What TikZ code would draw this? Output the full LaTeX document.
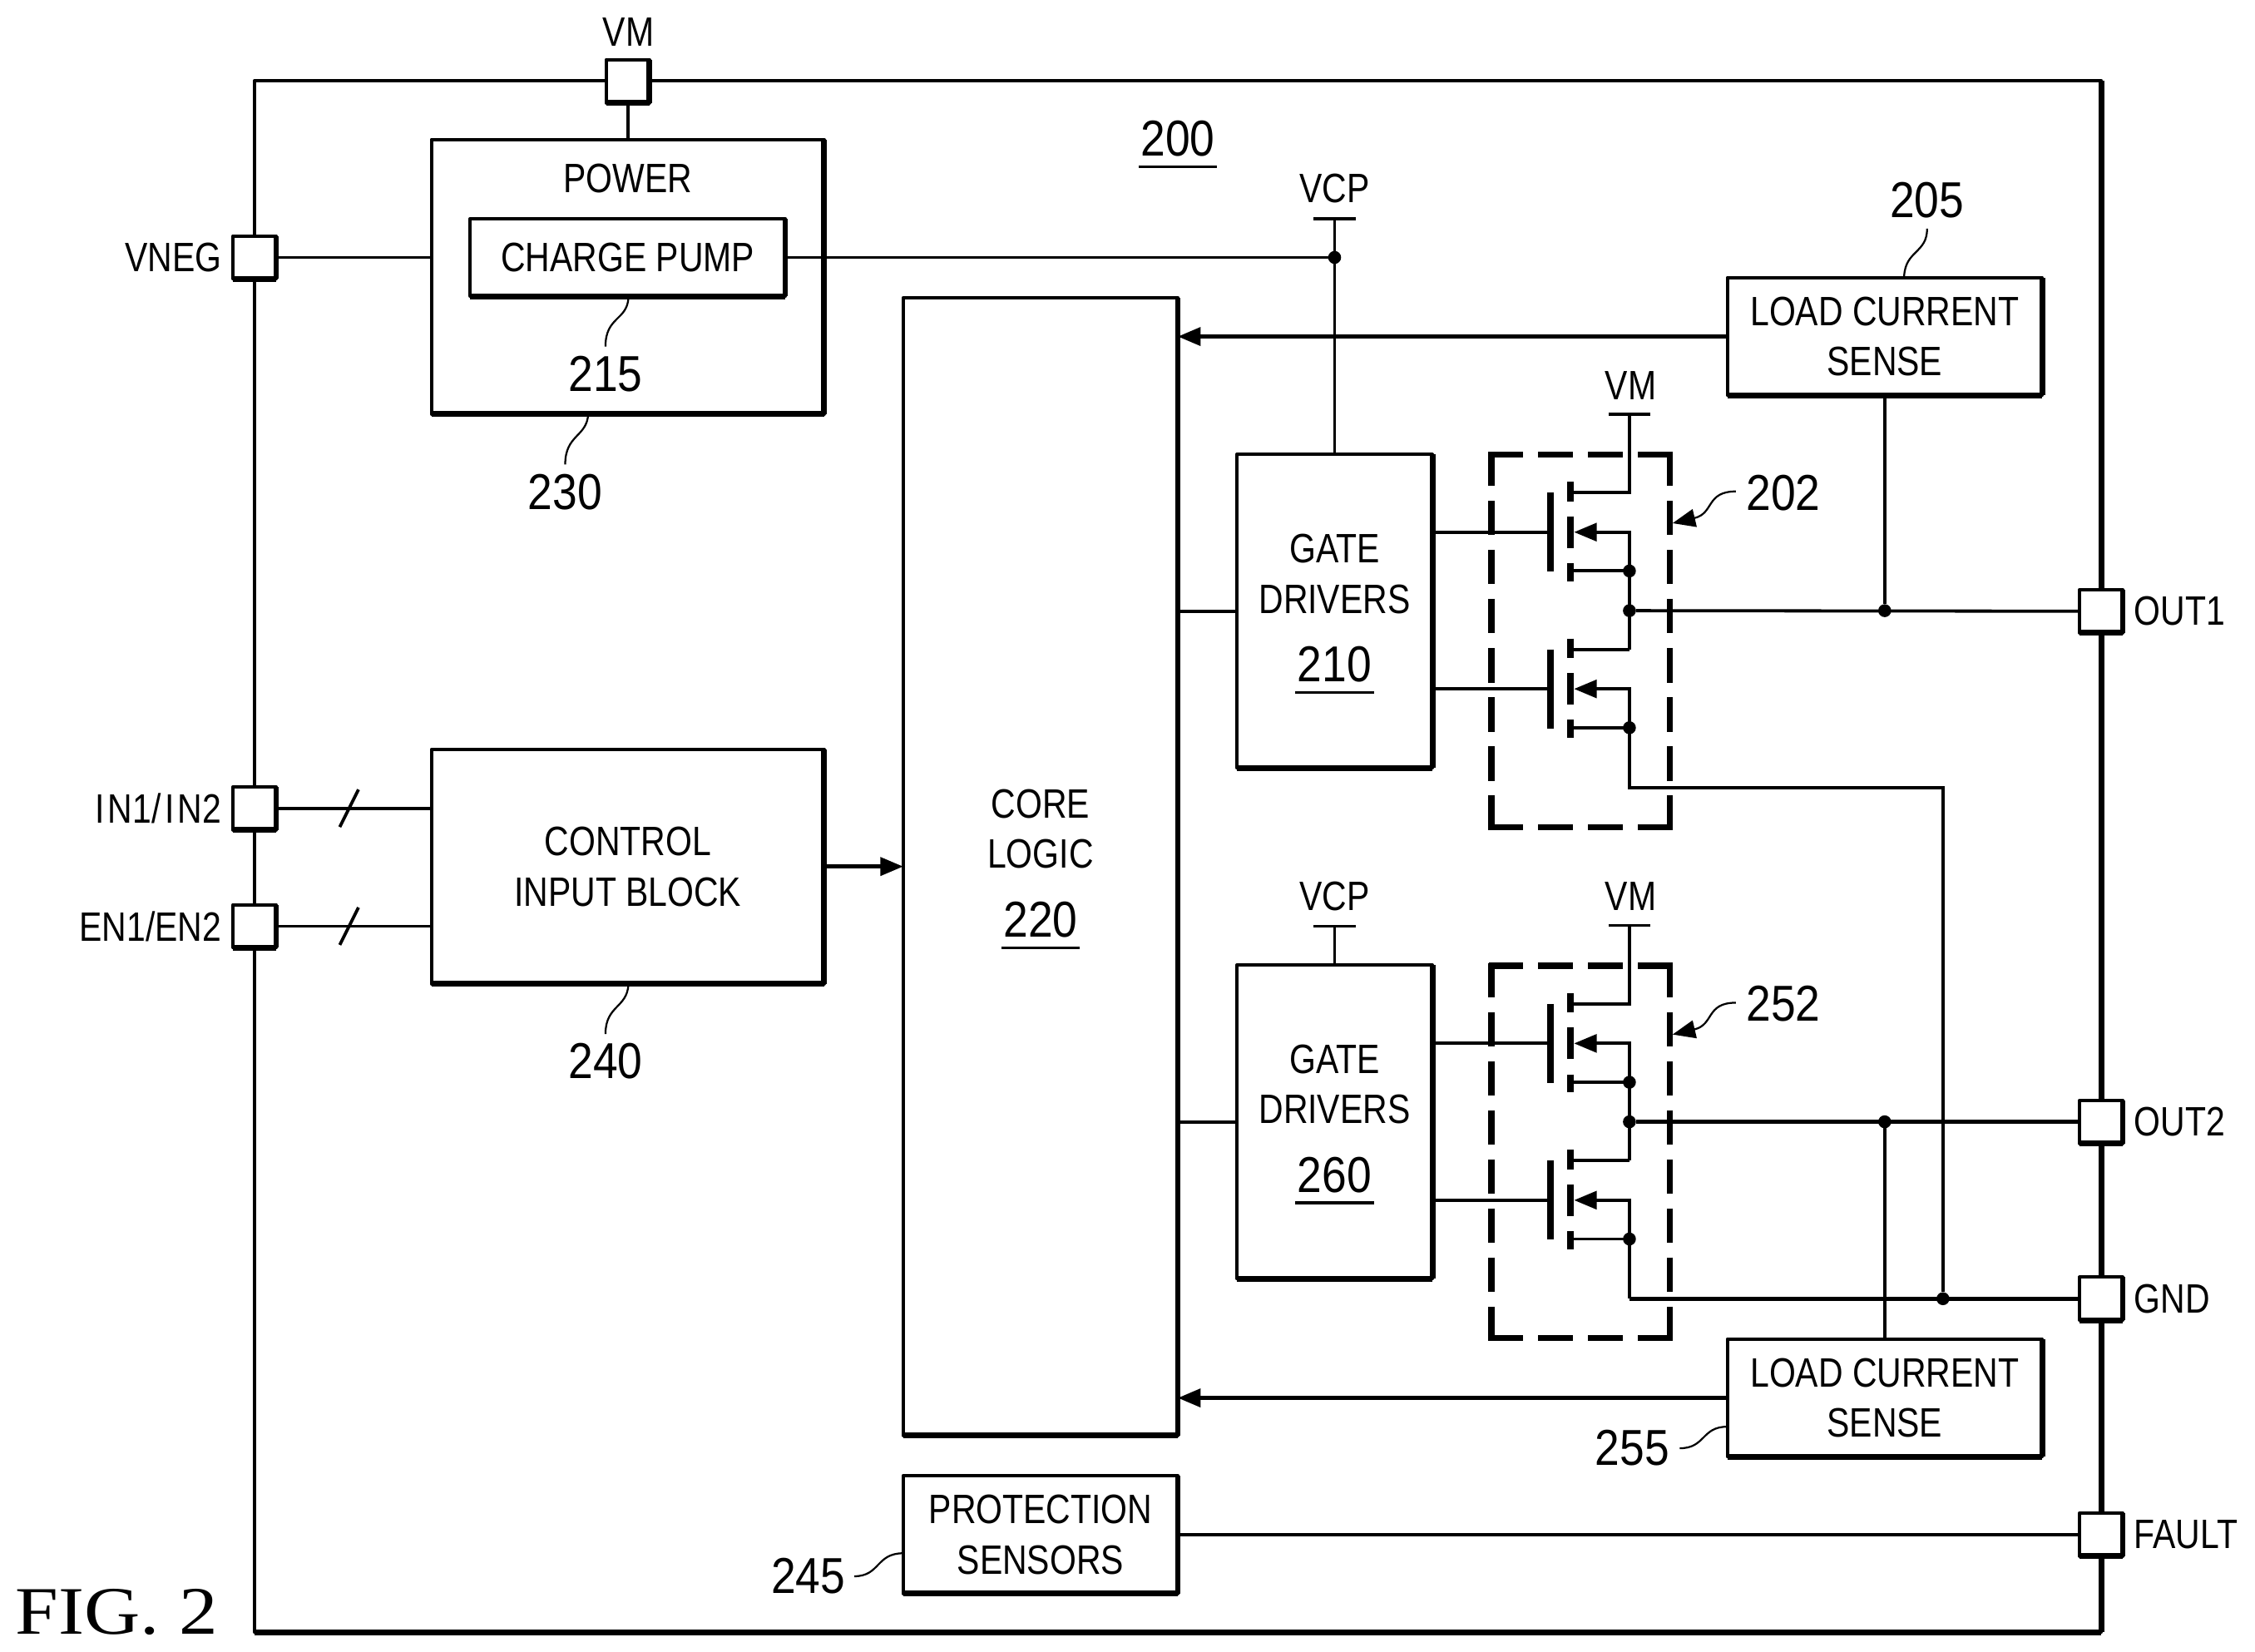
\documentclass[tikz,border=0pt]{standalone}
\usepackage{fontspec}
\usepackage{tikz}
\usetikzlibrary{arrows.meta, positioning}
\setmainfont[FakeStretch=0.83]{Liberation Sans}
\newfontfamily\reffont[FakeStretch=0.88]{Liberation Sans}
\newfontfamily\figfont[FakeStretch=1.14]{Liberation Serif}
\def\unitlen{0.5187pt}
\newcommand{\ulnum}[1]{\raisebox{0pt}[\height][0pt]{\vtop{\hbox{\kern0.8pt #1\kern0.8pt}\kern3.2pt\hrule height 1pt}}}
\newcommand{\refnum}[1]{{\reffont\fontsize{18.2}{20}\selectfont\ulnum{#1}\rule[-2.5pt]{0pt}{0pt}}}
\tikzset{
	heavy/.style={line width=4*\unitlen, line cap=butt},
	box/.style 2 args={
	rectangle,draw=black,fill=white,line width=2.3*\unitlen,line join=round,
	minimum width=#1*\unitlen,minimum height=#2*\unitlen,inner sep=0pt,outer sep=0pt,align=center,
	font=\fontsize{14.8}{18.2}\selectfont,
	append after command={(\tikzlastnode.south west) edge[heavy] (\tikzlastnode.south east)
		(\tikzlastnode.south east) edge[heavy] (\tikzlastnode.north east)}
	},
	ref/.style={inner sep=0pt,outer sep=0pt,font=\reffont\fontsize{18.2}{20}\selectfont},
	txt/.style={inner sep=0pt,outer sep=0pt,align=center,font=\fontsize{14.8}{18.2}\selectfont},
}

\begin{document}
\begin{tikzpicture}[x=\unitlen, y=-\unitlen, >={Stealth[length=8.2pt,width=6.5pt,inset=0pt]}]

			\tikzstyle{wire}=[line width=2.2*\unitlen]
			\tikzstyle{bus}=[line width=2.6*\unitlen]
			\tikzstyle{leader}=[line width=1.3*\unitlen]
			\tikzstyle{bar}=[line width=4.6*\unitlen]
			\tikzstyle{pin}=[box={30}{30}]
			\tikzstyle{dot}=[circle, fill=black, inner sep=0pt, outer sep=0pt, minimum size=9*\unitlen]
			\tikzstyle{dashh}=[line width=4.2*\unitlen, dash pattern=on 12.45pt off 5.53pt]
			\tikzstyle{dashv}=[line width=4.2*\unitlen, dash pattern=on 12.45pt off 5.26pt]

			\useasboundingbox (0,0) rectangle (1568,1148.66);

			% outer frame
			\node at (819,595.5) (chip) [box={1284}{1079}, fill=none] {};

			% blocks
			\node at (436.5,192.5) (power) [box={273}{191}] {};
			\node at (436.5,124) (powertext) [txt] {POWER};
			\node at (436.5,179) (pump) [box={219}{54}] {CHARGE PUMP};
			\node at (723.5,602.5) (core) [box={191}{791}] {CORE\\LOGIC\\[6.5pt]\refnum{220}};
			\node at (436.5,602.5) (control) [box={273}{163}] {CONTROL\\INPUT BLOCK};
			\node at (1310.5,234) (sensea) [box={219}{82}] {LOAD CURRENT\\SENSE};
			\node at (1310.5,972) (senseb) [box={219}{82}] {LOAD CURRENT\\SENSE};
			\node at (928,425) (drivera) [box={136}{218}] {GATE\\DRIVERS\\[6.5pt]\refnum{210}};
			\node at (928,780) (driverb) [box={136}{218}] {GATE\\DRIVERS\\[6.5pt]\refnum{260}};
			\node at (723.5,1067) (protect) [box={191}{82}] {PROTECTION\\SENSORS};

			% pins
			\node at (436.5,56.5) (pinvm) [pin] {};
			\node at (177,179) (pinvneg) [pin] {};
			\node at (177,562) (pinin) [pin] {};
			\node at (177,644) (pinen) [pin] {};
			\node at (1461,425) (pinouta) [pin] {};
			\node at (1461,780) (pinoutb) [pin] {};
			\node at (1461,903) (pingnd) [pin] {};
			\node at (1461,1067) (pinfault) [pin] {};

			\node at (437,22) (vmlabel) [txt] {VM};
			\node at (154,179) (vneglabel) [txt, anchor=east] {VNEG};
			\node at (154,562) (inlabel) [txt, anchor=east] {\kern.09em I\kern.09em N1/\kern.09em I\kern.09em N2};
			\node at (154,644) (enlabel) [txt, anchor=east] {EN1/EN2};
			\node at (1484,425) (outalabel) [txt, anchor=west] {OUT1};
			\node at (1484,780) (outblabel) [txt, anchor=west] {OUT2};
			\node at (1484,903) (gndlabel) [txt, anchor=west] {GND};
			\node at (1484,1067) (faultlabel) [txt, anchor=west] {FAULT};

			% supply rails
			\coordinate (vcpa) at (928,152);
			\coordinate (vcpb) at (928,644);
			\coordinate (vma) at (1133,288);
			\coordinate (vmb) at (1133,643.5);
			\foreach \rail in {vcpa, vcpb, vma, vmb} {
				\draw[wire] ([xshift=-14.5*\unitlen]\rail) -- ([xshift=14.5*\unitlen]\rail);
			}
			\node at (928,131) (vcpalabel) [txt] {VCP};
			\node at (928,623) (vcpblabel) [txt] {VCP};
			\node at (1134,268) (vmalabel) [txt] {VM};
			\node at (1134,623) (vmblabel) [txt] {VM};

			% output stages
			\foreach \fet/\gy in {ha/370, la/479, hb/725.5, lb/834.5} {
				\coordinate (\fet-gate) at (1078,\gy);
				\coordinate (\fet-tap) at (1133,\gy);
				\coordinate (\fet-drain) at (1133,\gy-27.5);
				\coordinate (\fet-source) at (1133,\gy+27);
				\draw[bar] (1078,\gy-27.5) -- (1078,\gy+27.5);
				\draw[bar] (1092,\gy-35) -- (1092,\gy-21.5);
				\draw[bar] (1092,\gy-11) -- (1092,\gy+11);
				\draw[bar] (1092,\gy+21.5) -- (1092,\gy+34);
				\draw[wire] (1092,\gy-27.5) -- (\fet-drain);
				\draw[wire] (1092,\gy+27) -- (\fet-source);
				\draw[wire, ->] (\fet-source) -- (\fet-tap) -- (1094.5,\gy);
				\node at (\fet-source) (\fet-dot) [dot] {};
			}
			\foreach \stage/\sy in {a/316, b/671.5} {
				\draw[dashh] (1035,\sy) -- (1163,\sy);
				\draw[dashh] (1035,\sy+259) -- (1163,\sy+259);
				\draw[dashv] (1037,\sy-2) -- (1037,\sy+261);
				\draw[dashv] (1161,\sy-2) -- (1161,\sy+261);
			}

			% gate connections
			\draw[wire] (drivera.east |- ha-gate) -- (ha-gate);
			\draw[wire] (drivera.east |- la-gate) -- (la-gate);
			\draw[wire] (driverb.east |- hb-gate) -- (hb-gate);
			\draw[wire] (driverb.east |- lb-gate) -- (lb-gate);

			% junctions
			\node at (1133,424.6) (midb) [dot] {};
			\node at (1133,780) (midd) [dot] {};
			\node at (1310.5,424.6) (tapa) [dot] {};
			\node at (1310.5,780) (tapb) [dot] {};
			\node at (928,179) (tapvcp) [dot] {};
			\node at (1351,903) (tapgnd) [dot] {};
			\coordinate (returna) at (1133,547.7);
			\coordinate (returnb) at (1133,903);

			% connectors
			\draw[wire] (pinvm) -- (power);
			\draw[wire] (pinvneg) -- (power.west |- pinvneg);
			\draw[wire] (pump) -- (tapvcp);
			\draw[wire] (vcpa) -- (drivera.north);
			\draw[wire] (vcpb) -- (driverb.north);
			\draw[wire] (vma) -- (ha-drain) -- (1092,342.5);
			\draw[wire] (vmb) -- (hb-drain) -- (1092,698);
			\draw[wire] (ha-source) -- (la-drain);
			\draw[wire] (hb-source) -- (lb-drain);
			\draw[wire] (la-source) -- (returna) -| (tapgnd);
			\draw[wire] (lb-source) -- (returnb);
			\draw[bus] (returnb) -- (pingnd);
			\draw[wire] (midb) -- (pinouta);
			\draw[bus] (midd) -- (pinoutb);
			\draw[wire] (tapa) -- (sensea.south);
			\draw[wire] (tapb) -- (senseb.north);
			\draw[bus, ->] (sensea) -- (core.east |- sensea);
			\draw[bus, ->] (senseb) -- (core.east |- senseb);
			\draw[bus, ->] (control) -- (core.west |- control);
			\draw[wire] (core.east |- drivera) -- (drivera);
			\draw[wire] (core.east |- driverb) -- (driverb);
			\draw[wire] (protect) -- (pinfault);
			\draw[wire] (pinin) -- (control.west |- pinin) coordinate[pos=0.47] (slashin);
			\draw[wire] (pinen) -- (control.west |- pinen) coordinate[pos=0.47] (slashen);
			\draw[wire] ([shift={(6.5*\unitlen,13*\unitlen)}]slashin) -- ([shift={(-6.5*\unitlen,-13*\unitlen)}]slashin);
			\draw[wire] ([shift={(6.5*\unitlen,13*\unitlen)}]slashen) -- ([shift={(-6.5*\unitlen,-13*\unitlen)}]slashen);

			% reference numerals
			\node at (819,96.2) (refchip) [ref] {\ulnum{200}};
			\node at (1340,139) (refsensea) [ref] {205};
			\node at (421,260) (refpump) [ref] {215};
			\node at (393,342) (refpower) [ref] {230};
			\node at (421,738) (refcontrol) [ref] {240};
			\node at (1240,343) (refstagea) [ref] {202};
			\node at (1240,698) (refstageb) [ref] {252};
			\node at (1135,1007) (refsenseb) [ref] {255};
			\node at (562,1096) (refprotect) [ref] {245};
			\node at (81,1121) (figlabel) [inner sep=0pt, font=\figfont\fontsize{24.5}{26}\selectfont] {FIG. 2};

			\coordinate (pumpend) at (421,241);
			\coordinate (sensearm) at (1324,192);
			\coordinate (sensebarm) at (1201,992);
			\coordinate (protectarm) at (628,1080);
			\draw[leader] (437,207) .. controls (436,223) and (421,220) .. (pumpend);
			\draw[leader] (409,288) .. controls (408,304) and (393,302) .. (393,323);
			\draw[leader] (437,684.5) .. controls (436,701) and (421,699) .. (421,719);
			\draw[leader] (1340,159) .. controls (1340,176) and (1325,174) .. (sensearm);
			\draw[leader] (1168,1007) .. controls (1186,1007) and (1183,992) .. (sensebarm);
			\draw[leader] (594,1096) .. controls (612,1096) and (609,1080) .. (protectarm);
			\draw[leader, ->] (1207,341.7) .. controls (1186,341.7) and (1192,357) .. (1163,363.8);
			\draw[leader, ->] (1207,697.2) .. controls (1186,697.2) and (1192,712.5) .. (1163,719.3);

\end{tikzpicture}
\end{document}
